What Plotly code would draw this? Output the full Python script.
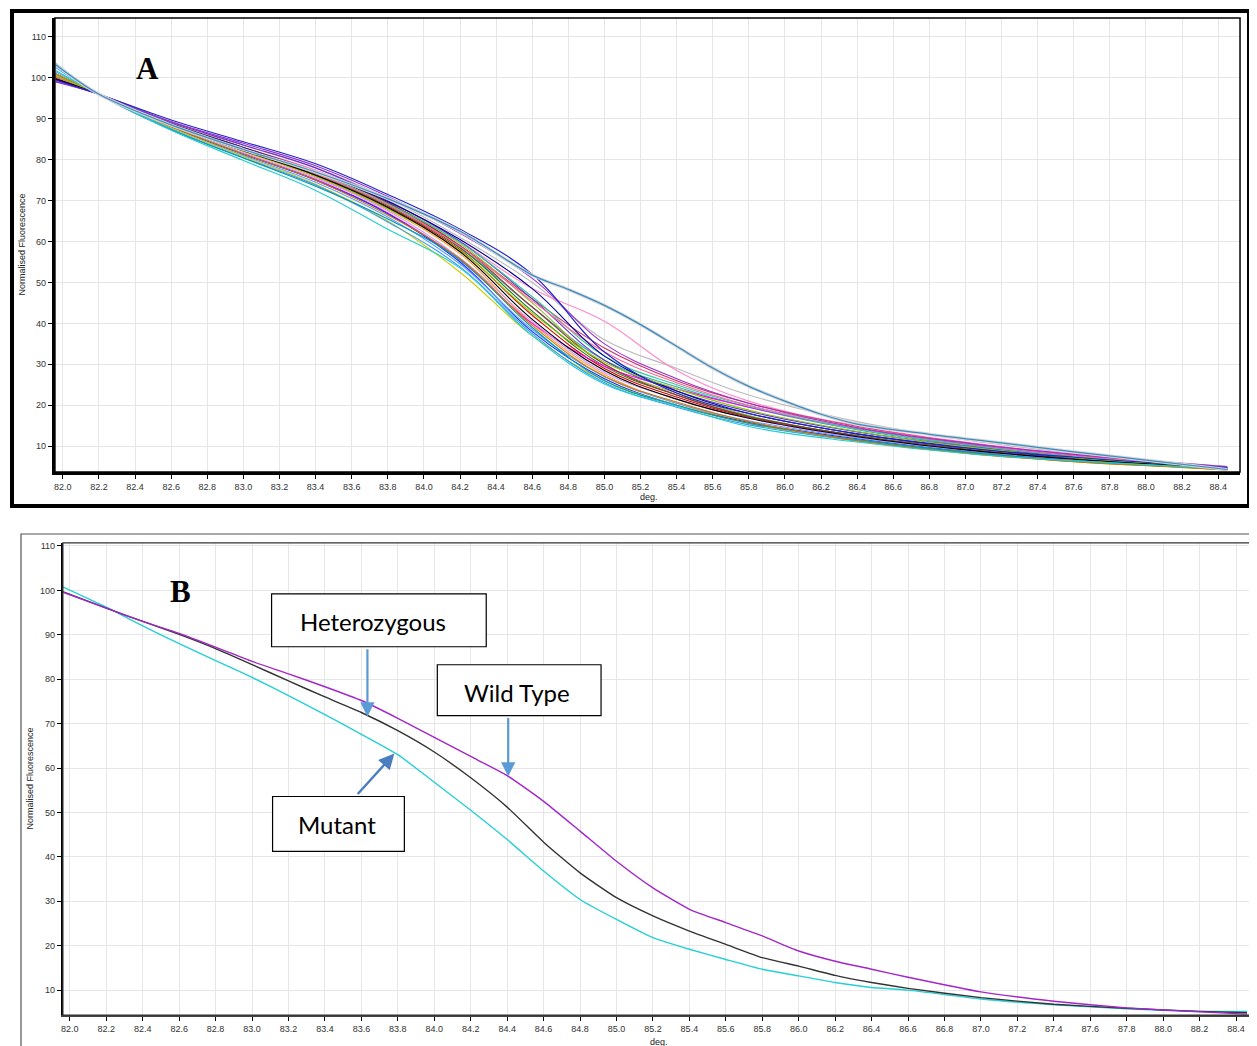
import plotly.graph_objects as go

# Reference image is 1257x1046; the page body has an 8px margin, so the figure is
# drawn 8px in and sized to fill the rest of the window exactly.
OFF = 8
FW, FH = 1257 - OFF, 1046 - OFF

# ---------------- Panel A data (normalised melt curves, many samples) ----------------
xa = [81.96, 82.2, 82.6, 83.0, 83.4, 83.8, 84.2, 84.6, 85.0, 85.4, 85.8, 86.4, 87.0, 87.6, 88.2, 88.45]

dark_blue   = [99.5, 96, 89.7, 84.4, 79.0, 71.5, 63.0, 52.0, 33.0, 23.0, 18.0, 13.0, 9.6, 7.3, 5.5, 4.8]
purple      = [99.2, 96, 89.3, 84.0, 78.5, 71.0, 62.0, 51.0, 35.0, 26.5, 20.5, 14.5, 10.8, 8.0, 5.8, 5.0]
gray        = [100.0, 96, 89.0, 83.5, 78.0, 70.5, 61.0, 50.0, 36.0, 29.0, 22.5, 16.0, 11.5, 8.3, 5.9, 5.0]
pink        = [100.5, 96, 88.8, 83.0, 77.5, 70.0, 60.0, 48.5, 40.5, 28.5, 21.0, 15.0, 11.0, 8.0, 5.7, 4.8]
crimson     = [100.0, 96, 88.7, 83.0, 77.2, 69.5, 59.0, 46.0, 34.0, 26.0, 20.5, 14.8, 10.8, 7.8, 5.6, 4.8]
teal        = [101.0, 96, 88.6, 82.5, 76.5, 69.0, 58.5, 44.0, 31.0, 24.5, 19.5, 14.0, 10.2, 7.3, 5.5, 4.7]
olive       = [100.2, 96, 88.6, 82.8, 77.0, 69.5, 59.5, 45.0, 30.0, 23.0, 17.5, 12.5, 9.2, 6.8, 5.2, 4.5]
red         = [100.0, 96, 88.4, 82.3, 76.3, 68.5, 58.0, 42.0, 29.0, 22.0, 17.0, 12.2, 9.0, 6.7, 5.1, 4.5]
black       = [99.8, 96, 88.4, 82.2, 76.2, 68.3, 57.5, 41.0, 28.5, 21.5, 16.8, 12.3, 9.1, 6.8, 5.2, 4.5]
dark_green  = [100.3, 96, 88.5, 82.4, 76.4, 68.8, 58.5, 43.0, 29.5, 22.5, 17.3, 12.6, 9.3, 6.9, 5.2, 4.6]
orange      = [100.4, 96, 88.3, 82.0, 75.8, 67.8, 57.0, 40.0, 27.5, 20.5, 15.8, 11.5, 8.4, 6.3, 4.9, 4.3]
magenta     = [100.6, 96, 88.0, 81.5, 75.2, 67.0, 55.5, 40.0, 29.5, 24.0, 19.5, 14.3, 10.5, 7.6, 5.5, 4.7]
blue        = [101.0, 96, 88.0, 81.3, 75.0, 66.8, 55.0, 38.0, 26.5, 20.0, 15.8, 11.8, 8.8, 6.5, 5.0, 4.4]
light_blue  = [101.5, 96, 87.8, 81.0, 74.5, 66.0, 54.5, 38.5, 27.0, 20.5, 16.2, 12.0, 8.9, 6.6, 5.0, 4.4]
yellow      = [101.0, 96, 87.8, 80.8, 74.0, 65.0, 52.5, 37.0, 26.0, 20.0, 15.5, 11.2, 8.3, 6.2, 4.8, 4.2]
cyan_low    = [101.8, 96, 87.2, 79.8, 72.5, 63.0, 53.5, 37.0, 25.2, 19.8, 14.8, 11.0, 8.2, 6.4, 5.0, 4.5]
violet      = [99.0, 96, 89.2, 83.6, 78.0, 70.0, 60.0, 46.0, 31.0, 23.5, 18.5, 13.5, 10.0, 7.3, 5.5, 4.7]
dark_red    = [99.6, 96, 88.9, 83.0, 77.0, 69.5, 59.0, 44.0, 30.0, 22.5, 17.2, 12.5, 9.2, 6.8, 5.2, 4.5]
sea_green   = [100.8, 96, 88.7, 82.6, 76.8, 69.2, 59.8, 46.5, 32.0, 25.0, 19.8, 14.2, 10.4, 7.5, 5.5, 4.7]
lilac       = [100.7, 96, 88.2, 81.7, 75.5, 67.5, 56.0, 40.5, 28.0, 21.5, 16.8, 12.2, 9.0, 6.7, 5.1, 4.5]
steel_blue  = [102.5, 96, 87.5, 80.5, 73.8, 64.8, 53.8, 37.5, 25.5, 19.5, 15.2, 11.3, 8.5, 6.3, 4.9, 4.3]
dark_cyan   = [103.5, 96, 87.3, 80.4, 73.5, 65.5, 55.5, 39.0, 26.0, 20.0, 15.6, 11.6, 8.6, 6.4, 4.9, 4.2]
rose        = [100.1, 96, 88.5, 82.5, 76.6, 69.0, 58.8, 45.5, 33.0, 25.5, 20.0, 14.6, 10.7, 7.7, 5.6, 4.8]
navy        = [99.7, 96, 88.8, 82.9, 77.0, 69.8, 60.5, 48.5, 32.0, 23.5, 18.0, 13.0, 9.6, 7.1, 5.3, 4.6]
dark_orange = [100.9, 96, 88.1, 81.4, 75.0, 66.5, 55.8, 39.5, 27.0, 20.8, 16.0, 11.4, 8.3, 6.2, 4.8, 4.2]
lime        = [100.5, 96, 88.4, 82.1, 76.0, 68.0, 57.8, 42.5, 30.5, 24.0, 18.8, 13.6, 9.9, 7.2, 5.3, 4.6]

series_a = [
    ("#bbbbbb", gray), ("#ff88cc", pink), ("#cc3366", crimson), ("#33aaaa", teal),
    ("#99bb33", olive), ("#dd0000", red), ("#227722", dark_green), ("#ff9933", orange),
    ("#ff00ff", magenta), ("#0033ff", blue), ("#6699ff", light_blue), ("#cccc00", yellow),
    ("#6633cc", violet), ("#993333", dark_red), ("#33cc99", sea_green), ("#cc99ff", lilac),
    ("#3399ff", steel_blue), ("#0099aa", dark_cyan), ("#ff6699", rose), ("#000099", navy),
    ("#cc7700", dark_orange), ("#88cc00", lime), ("#000000", black), ("#9933cc", purple),
    ("#2222cc", dark_blue), ("#22cccc", cyan_low),
]

# the one late-melting sample (teal with grey halo)
x_late = [81.96, 82.2, 82.6, 83.0, 83.4, 83.8, 84.2, 84.6, 84.8, 85.0, 85.2, 85.4, 85.6, 85.8, 86.0,
          86.2, 86.4, 86.8, 87.2, 87.6, 88.0, 88.45]
late_teal = [103.2, 96, 88.5, 82.5, 77.0, 70.5, 62.5, 51.8, 48.3, 44.4, 39.7, 34.4, 29.1, 24.6, 21.0,
             17.8, 15.4, 12.9, 10.8, 8.6, 6.6, 4.3]

# ---------------- Panel B data (three genotypes) ----------------
xb = [81.96, 82.2, 82.4, 82.6, 82.8, 83.0, 83.2, 83.4, 83.6, 83.8, 84.0, 84.2, 84.4, 84.6, 84.8,
      85.0, 85.2, 85.4, 85.6, 85.8, 86.0, 86.2, 86.4, 86.6, 87.0, 87.4, 87.8, 88.2, 88.46]
wild_type = [99.6, 96.0, 93.0, 90.3, 87.2, 84.0, 81.2, 78.3, 75.2, 71.2, 66.9, 62.6, 58.3, 52.5, 45.8,
             39.0, 33.0, 28.2, 25.2, 22.2, 18.8, 16.5, 14.7, 12.9, 9.6, 7.5, 6.0, 5.1, 4.6]
heterozygous = [99.7, 96.0, 93.0, 90.1, 86.9, 83.3, 79.6, 76.0, 72.5, 68.4, 63.6, 57.8, 51.2, 43.3, 36.4,
                30.8, 26.7, 23.3, 20.3, 17.3, 15.4, 13.3, 11.7, 10.4, 8.3, 6.8, 5.9, 5.2, 4.9]
mutant = [100.8, 96.2, 92.0, 88.0, 84.2, 80.4, 76.3, 72.0, 67.6, 63.0, 56.8, 50.5, 43.9, 36.8, 30.4,
          25.9, 21.8, 19.2, 16.9, 14.7, 13.2, 11.7, 10.6, 10.0, 8.0, 6.7, 5.8, 5.2, 5.2]

x_ticks = [82.0 + 0.2 * i for i in range(33)]
x_tick_labels = [f"{v:.1f}" for v in x_ticks]
y_ticks = [10, 20, 30, 40, 50, 60, 70, 80, 90, 100, 110]

fig = go.Figure()

for col, vals in series_a:
    fig.add_trace(go.Scatter(x=xa, y=vals, mode="lines", xaxis="x", yaxis="y",
                             line=dict(color=col, width=1.1, shape="spline", smoothing=1.1),
                             showlegend=False, hoverinfo="skip"))
# late sample: grey halo then teal line
fig.add_trace(go.Scatter(x=x_late, y=late_teal, mode="lines", xaxis="x", yaxis="y",
                         line=dict(color="#d6d6d6", width=3.2, shape="spline", smoothing=0.9),
                         showlegend=False, hoverinfo="skip"))
fig.add_trace(go.Scatter(x=x_late, y=late_teal, mode="lines", xaxis="x", yaxis="y",
                         line=dict(color="#3a8cc2", width=1.2, shape="spline", smoothing=0.9),
                         showlegend=False, hoverinfo="skip"))

fig.add_trace(go.Scatter(x=xb, y=mutant, mode="lines", xaxis="x2", yaxis="y2",
                         line=dict(color="#25d0d4", width=1.4, shape="spline", smoothing=0.5),
                         showlegend=False, name="Mutant"))
fig.add_trace(go.Scatter(x=xb, y=heterozygous, mode="lines", xaxis="x2", yaxis="y2",
                         line=dict(color="#333333", width=1.4, shape="spline", smoothing=0.5),
                         showlegend=False, name="Heterozygous"))
fig.add_trace(go.Scatter(x=xb, y=wild_type, mode="lines", xaxis="x2", yaxis="y2",
                         line=dict(color="#a326c9", width=1.4, shape="spline", smoothing=0.5),
                         showlegend=False, name="Wild Type"))


def px(x):
    return (x - OFF) / FW


def py(y):
    return 1 - (y - OFF) / FH


tickfont = dict(family="Liberation Sans, Arial", size=9, color="#333333")
common_x = dict(tickmode="array", tickvals=x_ticks, ticktext=x_tick_labels, showgrid=True,
                gridcolor="#e6e6e6", gridwidth=1, ticks="outside", ticklen=4, tickcolor="#000",
                tickfont=tickfont, zeroline=False, showline=True, linecolor="#000")
common_y = dict(tickmode="array", tickvals=y_ticks, showgrid=True, gridcolor="#e6e6e6",
                gridwidth=1, ticks="outside", ticklen=4, tickcolor="#000", tickfont=tickfont,
                zeroline=False, showline=True, linecolor="#000")

fig.update_layout(
    width=FW, height=FH, margin=dict(l=0, r=0, t=0, b=0),
    paper_bgcolor="white", plot_bgcolor="white",
    xaxis=dict(common_x, domain=[px(53), px(1240)], range=[81.956, 88.521], anchor="y", linewidth=3),
    yaxis=dict(common_y, domain=[py(471), py(16)], range=[3.66, 114.63], anchor="x", linewidth=3),
    xaxis2=dict(common_x, domain=[px(61), px(1255)], range=[81.962, 88.504], anchor="y2",
                linewidth=2, linecolor="#444"),
    yaxis2=dict(common_y, domain=[py(1015), py(542)], range=[4.38, 110.67], anchor="x2", linewidth=2),
)

shapes = [
    dict(type="rect", xref="paper", yref="paper", x0=px(10), x1=px(1249), y0=py(505), y1=py(9),
         line=dict(color="#000", width=4)),
    dict(type="rect", xref="paper", yref="paper", x0=px(53), x1=px(1240), y0=py(471), y1=py(16),
         line=dict(color="#000", width=1.5)),
    dict(type="rect", xref="paper", yref="paper", x0=px(19), x1=px(1262), y0=py(1052), y1=py(533),
         line=dict(color="#555", width=1.2)),
    dict(type="rect", xref="paper", yref="paper", x0=px(61), x1=px(1255), y0=py(1015), y1=py(542),
         line=dict(color="#333", width=1.2)),
    dict(type="rect", xref="paper", yref="paper", x0=px(270), x1=px(485), y0=py(646), y1=py(593),
         line=dict(color="#000", width=1.2), fillcolor="white"),
    dict(type="rect", xref="paper", yref="paper", x0=px(436), x1=px(600), y0=py(715), y1=py(664),
         line=dict(color="#000", width=1.2), fillcolor="white"),
    dict(type="rect", xref="paper", yref="paper", x0=px(271), x1=px(403), y0=py(851), y1=py(796),
         line=dict(color="#000", width=1.2), fillcolor="white"),
]

label_font = dict(family="Lato, Open Sans, sans-serif", size=24, color="#000")


def txt(text, x, y, font, angle=0):
    return dict(text=text, xref="paper", yref="paper", x=px(x), y=py(y), showarrow=False,
                xanchor="center", yanchor="middle", textangle=angle, font=font)


small = dict(family="Liberation Sans", size=9, color="#222")
serif = dict(family="Liberation Serif, Times New Roman", size=31, color="#000")
annotations = [
    txt("<b>A</b>", 146, 67, serif),
    txt("<b>B</b>", 179, 591, serif),
    txt("Normalised Fluorescence", 20, 243, small, -90),
    txt("deg.", 648, 496, small),
    txt("Normalised Fluorescence", 28, 778, small, -90),
    txt("deg.", 658, 1042, small),
    txt("Heterozygous", 372, 621, label_font),
    txt("Wild Type", 516, 692, label_font),
    txt("Mutant", 336, 824, label_font),
    dict(text="", xref="paper", yref="paper", x=px(366), y=py(716), axref="pixel", ayref="pixel",
         ax=0, ay=-69, showarrow=True, arrowhead=2, arrowsize=1.3, arrowwidth=2.2,
         arrowcolor="#5b9bd5"),
    dict(text="", xref="paper", yref="paper", x=px(507), y=py(776), axref="pixel", ayref="pixel",
         ax=0, ay=-60, showarrow=True, arrowhead=2, arrowsize=1.3, arrowwidth=2.2,
         arrowcolor="#5b9bd5"),
    dict(text="", xref="paper", yref="paper", x=px(393), y=py(753), axref="pixel", ayref="pixel",
         ax=-38, ay=42, showarrow=True, arrowhead=2, arrowsize=1.3, arrowwidth=2.4,
         arrowcolor="#4a7ebf"),
]

fig.update_layout(shapes=shapes, annotations=annotations)
fig.write_html("out.html")
